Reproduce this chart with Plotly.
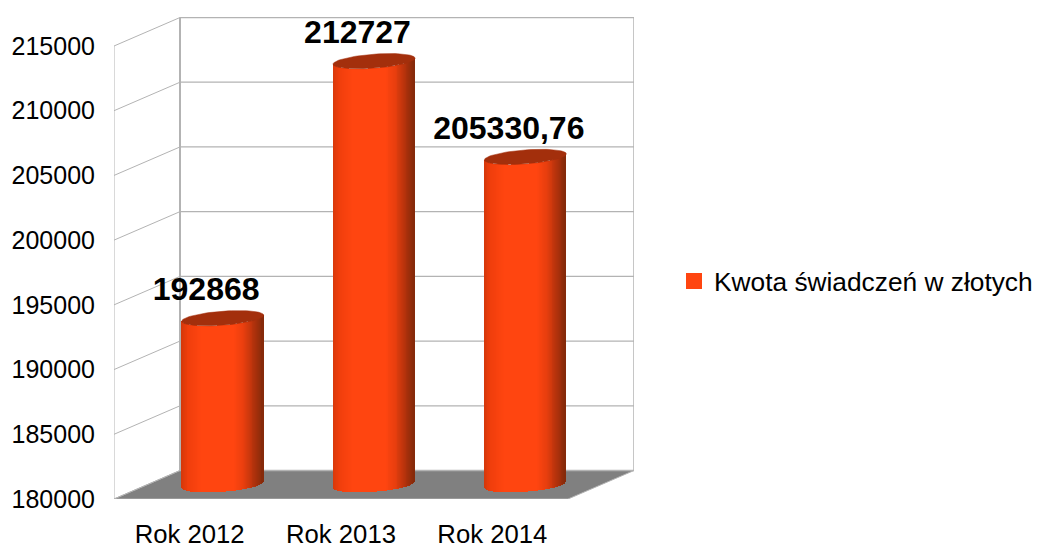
import numpy as np
import plotly.graph_objects as go

categories = ["Rok 2012", "Rok 2013", "Rok 2014"]
values = [192868, 212727, 205330.76]
value_labels = ["192868", "212727", "205330,76"]
y_ticks = [180000, 185000, 190000, 195000, 200000, 205000, 210000, 215000]
series_name = "Kwota świadczeń w złotych"

FONT = "Liberation Sans"
ORANGE = "#ff4510"
TOP = "#a32f0c"
GRID = "#b3b3b3"
FLOOR = "#808080"

# plot-frame geometry (pixels of the window)
L, R, T, B = 114, 634, 17, 499
PX_Y = 453 / 35000          # pixels per value unit
PX_X = 454 / 3              # pixels per category
DEPTH_X = 66 / PX_X         # 3D depth in category units
DEPTH_Y = 28.5 / PX_Y       # 3D depth in value units
X0, X1 = -0.5, 2.5 + DEPTH_X
Y0 = y_ticks[0]
Y1 = Y0 + (B - T) / PX_Y
HALF_W = 41 / PX_X          # cylinder half width
ELL_B = 7 / PX_Y            # ellipse half height
ELL_K = 3 / PX_Y            # ellipse tilt
STRIPS = 90
STRIP_W = 1.7 / PX_X

stops_u = [-1.0, -0.85, -0.5, 0.3, 0.55, 0.8, 1.0]
stops_c = [(214, 56, 10), (240, 62, 12), (255, 69, 16), (255, 69, 16),
           (232, 62, 14), (178, 50, 12), (134, 42, 10)]


def shade(u):
    return "rgb(%d,%d,%d)" % tuple(
        int(round(np.interp(u, stops_u, [c[i] for c in stops_c]))) for i in range(3))


fig = go.Figure()
shapes = []

# floor
floor = (f"M {X0} {Y0} L {X0+DEPTH_X} {Y0+DEPTH_Y} L {X1} {Y0+DEPTH_Y} "
         f"L {X1-DEPTH_X} {Y0} Z")
shapes.append(dict(type="path", path=floor, xref="x", yref="y", layer="below",
                   fillcolor=FLOOR, line=dict(color=GRID, width=1)))
# walls
top_v = y_ticks[-1]
for xs, ys, w in [
    ([X0, X0], [Y0, top_v], 1),
    ([X0 + DEPTH_X, X0 + DEPTH_X], [Y0 + DEPTH_Y, top_v + DEPTH_Y], 2),
    ([X1, X1], [Y0 + DEPTH_Y, top_v + DEPTH_Y], 1.5),
]:
    shapes.append(dict(type="line", x0=xs[0], x1=xs[1], y0=ys[0], y1=ys[1], xref="x", yref="y",
                       layer="below", line=dict(color=GRID, width=w)))
for v in y_ticks:
    shapes.append(dict(type="line", x0=X0, x1=X0 + DEPTH_X, y0=v, y1=v + DEPTH_Y, xref="x", yref="y",
                       layer="below", line=dict(color=GRID, width=1)))
    shapes.append(dict(type="line", x0=X0 + DEPTH_X, x1=X1, y0=v + DEPTH_Y, y1=v + DEPTH_Y, xref="x", yref="y",
                       layer="below", line=dict(color=GRID, width=1.3)))

# cylinders
for i, v in enumerate(values):
    cx = i + DEPTH_X / 2
    u = np.linspace(-1, 1, STRIPS)
    xs = cx + u * (HALF_W - STRIP_W / 2)
    root = np.sqrt(np.clip(1 - u ** 2, 0, 1))
    y_base = Y0 + DEPTH_Y / 2 + ELL_K * u - ELL_B * root
    y_top = v + DEPTH_Y / 2 + ELL_K * u - ELL_B * root
    fig.add_trace(go.Bar(
        x=xs, y=y_top - y_base, base=y_base,
        width=[STRIP_W] * STRIPS,
        marker=dict(color=[shade(a) for a in u], line=dict(width=0)),
        showlegend=False, hoverinfo="skip"))
    t = np.linspace(0, 2 * np.pi, 80)
    fig.add_trace(go.Scatter(
        x=cx + HALF_W * np.cos(t),
        y=v + DEPTH_Y / 2 + ELL_K * np.cos(t) + ELL_B * np.sin(t),
        mode="lines", fill="toself", fillcolor=TOP, line=dict(color=TOP, width=0.5),
        showlegend=False, hoverinfo="skip"))

# value labels
fig.add_trace(go.Scatter(
    x=[i + DEPTH_X / 4 for i in range(3)],
    y=[v + 40 / PX_Y for v in values],
    mode="text", text=value_labels, textposition="middle center",
    textfont=dict(family=FONT, size=32, color="#000000", weight=700),
    cliponaxis=False, showlegend=False, hoverinfo="skip"))

# legend entry
fig.add_trace(go.Scatter(
    x=[None], y=[None], mode="markers", name=series_name,
    marker=dict(symbol="square", size=16, color=ORANGE)))

fig.update_layout(
    width=1038, height=545,
    margin=dict(l=L, r=1038 - R, t=T, b=545 - B, autoexpand=False),
    paper_bgcolor="white", plot_bgcolor="white",
    barmode="overlay", bargap=0,
    shapes=shapes,
    font=dict(family=FONT, size=25, color="#000000"),
    showlegend=True,
    legend=dict(x=(682 - L) / (R - L), y=(B - 281.5) / (B - T),
                xanchor="left", yanchor="middle", font=dict(family=FONT, size=26.3),
                bgcolor="rgba(0,0,0,0)", itemwidth=30, indentation=-8, tracegroupgap=0),
    xaxis=dict(range=[X0, X1], tickmode="array", tickvals=[0, 1, 2], ticktext=categories,
               showgrid=False, zeroline=False, showline=False,
               ticks="outside", ticklen=12, tickcolor="rgba(0,0,0,0)", tickfont=dict(size=25.7)),
    yaxis=dict(range=[Y0, Y1], tickmode="array", tickvals=y_ticks, ticktext=[str(t) for t in y_ticks],
               showgrid=False, zeroline=False, showline=False,
               ticks="outside", ticklen=13, tickcolor="rgba(0,0,0,0)", tickfont=dict(size=25)),
)
# the page's default body margin would push the fixed-size figure 8px off
fig.write_html("out.html", config={"displayModeBar": False},
               post_script="document.body.style.margin='0';")
